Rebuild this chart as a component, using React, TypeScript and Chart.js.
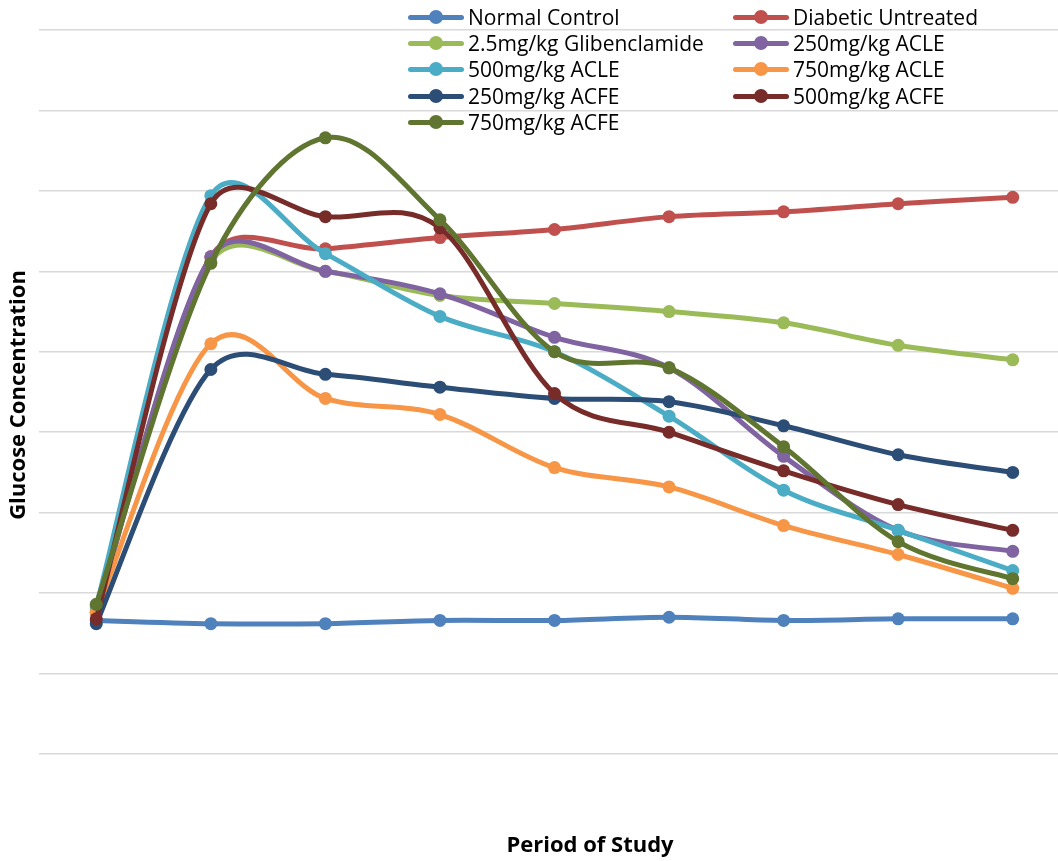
import React, { useEffect, useRef } from "react";
import { Chart, registerables } from "chart.js";

Chart.register(...registerables);

const periods = ["P1", "P2", "P3", "P4", "P5", "P6", "P7", "P8", "P9"];

const normalControl = [83, 81, 81, 83, 83, 85, 83, 84, 84];
const diabeticUntreated = [88, 309, 314, 321, 326, 334, 337, 342, 346];
const glibenclamide = [91, 306, 300, 285, 280, 275, 268, 254, 245];
const acle250 = [88, 309, 300, 286, 259, 240, 185, 139, 126];
const acle500 = [92, 347, 311, 272, 250, 210, 164, 139, 114];
const acle750 = [88, 255, 221, 211, 178, 166, 142, 124, 103];
const acfe250 = [81, 239, 236, 228, 221, 219, 204, 186, 175];
const acfe500 = [84, 342, 334, 327, 224, 200, 176, 155, 139];
const acfe750 = [93, 305, 383, 332, 250, 240, 191, 132, 109];

const seriesNames = [
  "Normal Control",
  "Diabetic Untreated",
  "2.5mg/kg Glibenclamide",
  "250mg/kg ACLE",
  "500mg/kg ACLE",
  "750mg/kg ACLE",
  "250mg/kg ACFE",
  "500mg/kg ACFE",
  "750mg/kg ACFE",
];
const seriesValues = [
  normalControl,
  diabeticUntreated,
  glibenclamide,
  acle250,
  acle500,
  acle750,
  acfe250,
  acfe500,
  acfe750,
];
const seriesColors = [
  "#4F81BD",
  "#C0504D",
  "#9BBB59",
  "#8064A2",
  "#4BACC6",
  "#F79646",
  "#2C4D75",
  "#772C2A",
  "#5F7530",
];

const FONT = "'Open Sans', sans-serif";

// Excel-like smoothing: Catmull-Rom tangents (1/6), arms capped by the adjacent segment length
const smoothPlugin = {
  id: "excelSmooth",
  beforeDatasetsDraw(chart: any) {
    const K = 0.42;
    chart.data.datasets.forEach((_: any, di: number) => {
      const meta = chart.getDatasetMeta(di);
      if (!meta || meta.hidden) return;
      const pts = meta.data;
      const n = pts.length;
      for (let i = 0; i < n; i++) {
        const p = pts[i];
        const prev = pts[Math.max(0, i - 1)];
        const next = pts[Math.min(n - 1, i + 1)];
        const tx = next.x - prev.x;
        const ty = next.y - prev.y;
        const tl = Math.hypot(tx, ty) || 1;
        const ux = tx / tl;
        const uy = ty / tl;
        const base = tl / 6;
        const dPrev = Math.hypot(p.x - prev.x, p.y - prev.y);
        const dNext = Math.hypot(next.x - p.x, next.y - p.y);
        const aBack = i === 0 ? 0 : Math.min(base, K * dPrev);
        const aFwd = i === n - 1 ? 0 : Math.min(base, K * dNext);
        p.cp1x = p.x - ux * aBack;
        p.cp1y = p.y - uy * aBack;
        p.cp2x = p.x + ux * aFwd;
        p.cp2y = p.y + uy * aFwd;
      }
      if (meta.dataset) meta.dataset._pointsUpdated = true;
    });
  },
};

const titlesPlugin = {
  id: "axisTitles",
  afterDraw(chart: any) {
    const ctx = chart.ctx;
    ctx.save();
    ctx.fillStyle = "#000";
    ctx.font = `bold 22px ${FONT}`;
    ctx.textAlign = "center";
    ctx.textBaseline = "middle";
    ctx.fillText("Period of Study", 590, 846);
    ctx.translate(19, 395);
    ctx.rotate(-Math.PI / 2);
    ctx.fillText("Glucose Concentration", 0, 0);
    ctx.restore();
  },
};

function LegendItem({ name, color, left, top }: any) {
  return (
    <div
      style={{
        position: "absolute",
        left,
        top: top - 14,
        height: 28,
        display: "flex",
        alignItems: "center",
        fontFamily: FONT,
        fontSize: 21,
        color: "#000",
        whiteSpace: "nowrap",
      }}
    >
      <div style={{ position: "relative", width: 56, height: 28, marginRight: 4 }}>
        <div
          style={{
            position: "absolute",
            left: 0,
            top: 11.5,
            width: 56,
            height: 5,
            borderRadius: 2.5,
            background: color,
          }}
        />
        <div
          style={{
            position: "absolute",
            left: 21,
            top: 7,
            width: 14,
            height: 14,
            borderRadius: 7,
            background: color,
          }}
        />
      </div>
      <span>{name}</span>
    </div>
  );
}

export default function App() {
  const canvasRef = useRef<HTMLCanvasElement | null>(null);

  useEffect(() => {
    document.body.style.margin = "0";
    const canvas = canvasRef.current;
    if (!canvas) return;
    const n = seriesNames.length;
    const chart = new Chart(canvas, {
      type: "line",
      data: {
        labels: periods,
        datasets: seriesNames.map((name, i) => ({
          label: name,
          data: seriesValues[i],
          borderColor: seriesColors[i],
          backgroundColor: seriesColors[i],
          pointBackgroundColor: seriesColors[i],
          pointBorderColor: seriesColors[i],
          borderWidth: 5,
          pointRadius: 6.5,
          pointBorderWidth: 0,
          pointHoverRadius: 6.5,
          tension: 0.4,
          fill: false,
          order: n - i,
        })),
      },
      options: {
        animation: false,
        responsive: false,
        maintainAspectRatio: false,
        layout: { autoPadding: false, padding: { left: 39, top: 30, right: 0, bottom: 107 } },
        plugins: {
          legend: { display: false },
          tooltip: { enabled: false },
        },
        scales: {
          x: {
            display: false,
            offset: true,
          },
          y: {
            min: 0,
            max: 450,
            ticks: { display: false, stepSize: 50 },
            grid: { color: "#D9D9D9", lineWidth: 1.6, drawTicks: false },
            border: { display: false },
          },
        },
      },
      plugins: [smoothPlugin, titlesPlugin],
    });
    return () => chart.destroy();
  }, []);

  const colLeft = [408, 733];
  const rowTop = [17, 43, 69, 96, 122];

  return (
    <div
      style={{
        position: "relative",
        width: 1058,
        height: 861,
        overflow: "hidden",
        background: "#fff",
      }}
    >
      <canvas ref={canvasRef} width={1070} height={861} style={{ display: "block" }} />
      {seriesNames.map((name, i) => (
        <LegendItem
          key={name}
          name={name}
          color={seriesColors[i]}
          left={colLeft[i % 2]}
          top={rowTop[Math.floor(i / 2)]}
        />
      ))}
    </div>
  );
}
